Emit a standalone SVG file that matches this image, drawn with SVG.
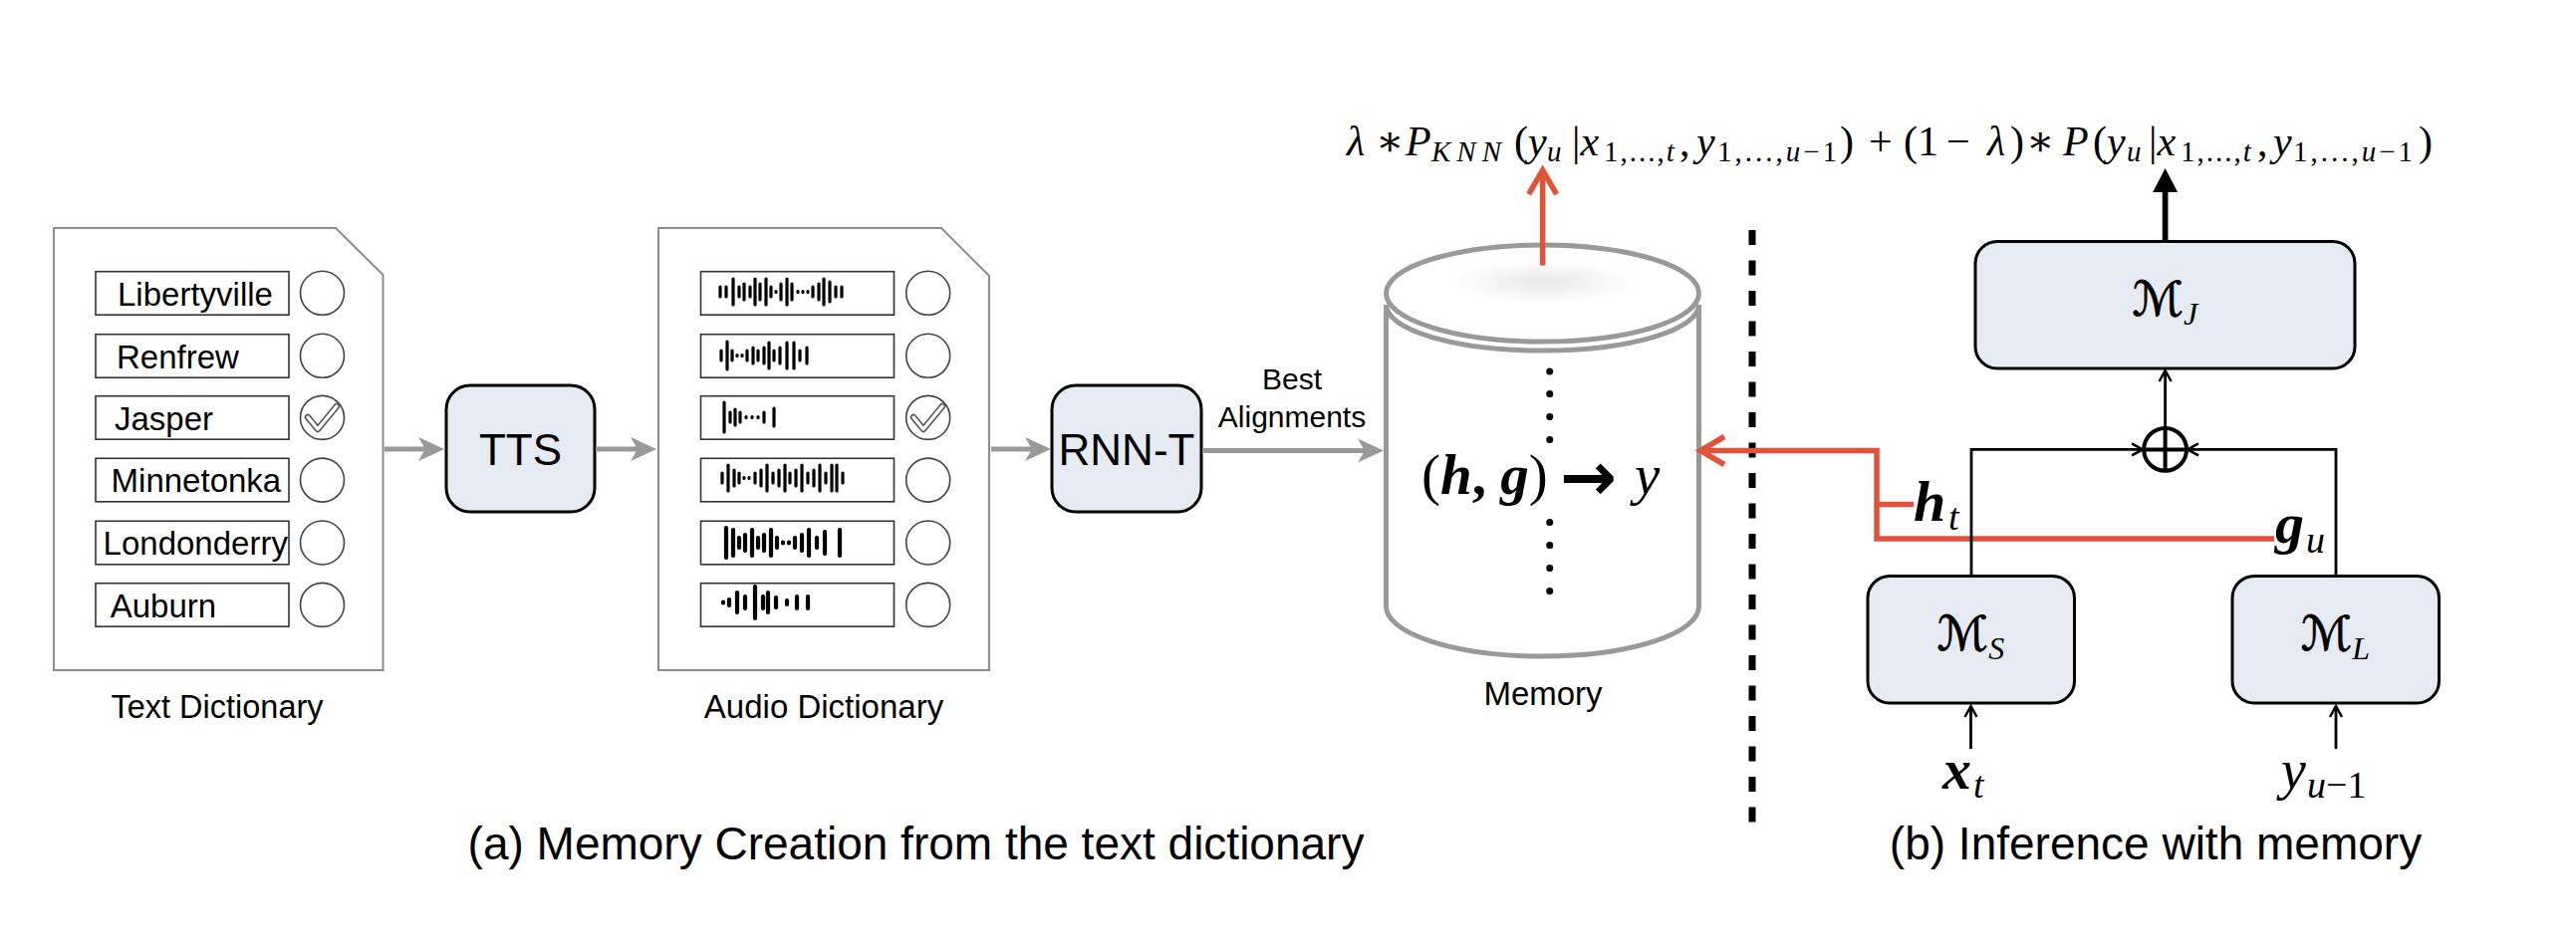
<svg xmlns="http://www.w3.org/2000/svg" width="2586" height="954" viewBox="0 0 2586 954">
<defs>
<style>
.doc{fill:#fff;stroke:#8c8c8c;stroke-width:2}
.entry{fill:#fff;stroke:#333;stroke-width:1.6}
.radio{fill:#fff;stroke:#444;stroke-width:1.6}
.lbl{font-family:"Liberation Sans",Arial,sans-serif;fill:#000}
.blk{fill:#e6ebf3;stroke:#000;stroke-width:3}
.gray{stroke:#999;stroke-width:5;fill:none}
.red{stroke:#e0523a;stroke-width:5.5;fill:none}
.thin{stroke:#000;stroke-width:2.8;fill:none}
.math{font-family:"Liberation Serif","DejaVu Serif",serif;fill:#000}
.it{font-style:italic}
.bi{font-style:italic;font-weight:bold}
.cal{font-family:"DejaVu Serif","DejaVu Sans",serif;fill:#000;stroke:#000;stroke-width:0.9}
.wave{stroke:#000;stroke-width:3.2;stroke-linecap:round;fill:none}
.wave2{stroke:#000;stroke-width:4.2;stroke-linecap:round;fill:none}
.chk1{stroke:#555;stroke-width:6.5;stroke-linecap:round;stroke-linejoin:round;fill:none}
.chk2{stroke:#fff;stroke-width:3.4;stroke-linecap:round;stroke-linejoin:round;fill:none}
.cyl{stroke:#999;stroke-width:5;fill:#fff}
</style>
<marker id="ga" markerUnits="userSpaceOnUse" markerWidth="30" markerHeight="30" refX="0" refY="0" orient="auto" overflow="visible"><path d="M19,0 L-7,-12 L0,0 L-7,12 Z" fill="#999"/></marker>
<marker id="ra" markerUnits="userSpaceOnUse" markerWidth="30" markerHeight="30" refX="0" refY="0" orient="auto" overflow="visible"><path d="M-24,-14 L0,0 L-24,14" fill="none" stroke="#e0523a" stroke-width="5.5"/></marker>
<marker id="ba" markerUnits="userSpaceOnUse" markerWidth="30" markerHeight="30" refX="0" refY="0" orient="auto" overflow="visible"><path d="M24,0 L0,-12.5 L0,12.5 Z" fill="#000"/></marker>
<marker id="sa" markerUnits="userSpaceOnUse" markerWidth="20" markerHeight="20" refX="0" refY="0" orient="auto" overflow="visible"><path d="M-11,-6 L0,0 L-11,6" fill="none" stroke="#000" stroke-width="2.5"/></marker>
<radialGradient id="shade" cx="0.5" cy="0.5" r="0.5"><stop offset="0" stop-color="#000" stop-opacity="0.09"/><stop offset="1" stop-color="#000" stop-opacity="0"/></radialGradient>
</defs>
<rect width="2586" height="954" fill="#fff"/>

<g id="text-dictionary">
<path class="doc" d="M54,229 H337 L384.5,276 V673 H54 Z"/>
<rect class="entry" x="96" y="272.7" width="194" height="43.5"/>
<rect class="entry" x="96" y="335.7" width="194" height="43.5"/>
<rect class="entry" x="96" y="397.7" width="194" height="43.5"/>
<rect class="entry" x="96" y="460.3" width="194" height="43.5"/>
<rect class="entry" x="96" y="523.3" width="194" height="43.5"/>
<rect class="entry" x="96" y="585.7" width="194" height="43.5"/>
<circle class="radio" cx="323.5" cy="294.3" r="22"/>
<circle class="radio" cx="323.5" cy="357.3" r="22"/>
<circle class="radio" cx="323.5" cy="419.4" r="22"/>
<circle class="radio" cx="323.5" cy="482.1" r="22"/>
<circle class="radio" cx="323.5" cy="545" r="22"/>
<circle class="radio" cx="323.5" cy="607.4" r="22"/>
<path class="chk1" d="M309,419 L319,431 L338,408"/>
<path class="chk2" d="M309,419 L319,431 L338,408"/>
<g class="lbl" font-size="33">
<text x="118" y="306.5">Libertyville</text>
<text x="117" y="369.5">Renfrew</text>
<text x="115" y="431.5">Jasper</text>
<text x="111.6" y="494.3">Minnetonka</text>
<text x="103.6" y="557">Londonderry</text>
<text x="110.7" y="619.5">Auburn</text>
</g>
<text class="lbl" x="218" y="721" font-size="32.5" text-anchor="middle">Text Dictionary</text>
</g>

<g id="tts">
<rect class="blk" x="448" y="387" width="149" height="127" rx="24"/>
<text class="lbl" x="522.5" y="467" font-size="44" text-anchor="middle">TTS</text>
</g>

<g id="audio-dictionary">
<path class="doc" d="M661,229 H945 L993,277 V673 H661 Z"/>
<rect class="entry" x="703.5" y="272.7" width="194" height="43.5"/>
<rect class="entry" x="703.5" y="335.7" width="194" height="43.5"/>
<rect class="entry" x="703.5" y="397.7" width="194" height="43.5"/>
<rect class="entry" x="703.5" y="460.3" width="194" height="43.5"/>
<rect class="entry" x="703.5" y="523.3" width="194" height="43.5"/>
<rect class="entry" x="703.5" y="585.7" width="194" height="43.5"/>
<circle class="radio" cx="931.7" cy="294.3" r="22"/>
<circle class="radio" cx="931.7" cy="357.3" r="22"/>
<circle class="radio" cx="931.7" cy="419.4" r="22"/>
<circle class="radio" cx="931.7" cy="482.1" r="22"/>
<circle class="radio" cx="931.7" cy="545" r="22"/>
<circle class="radio" cx="931.7" cy="607.4" r="22"/>
<path class="chk1" d="M917,419 L927,431 L946,408"/>
<path class="chk2" d="M917,419 L927,431 L946,408"/>
<path class="wave" d="M723,288V298 M729,288V298 M736,280V306 M742,288V298 M747,285V301 M753,288V298 M758,280V306 M763,285V301 M769,280V306 M774,288V298 M779,292.5V293.5 M784,285V301 M790,280V306 M795,285V301 M801,292.5V293.5 M806,292.5V293.5 M811,292.5V293.5 M816,288V298 M822,285V301 M827,280V306 M833,283V303 M839,288V298 M845,288V298"/>
<path class="wave" d="M724,352V362 M730,343V371 M735,352V362 M740,356.5V357.5 M745,356.5V357.5 M750,352V362 M756,349V365 M761,352V362 M767,349V365 M772,344V370 M777,352V362 M783,349V365 M790,344V370 M797,344V370 M803,352V362 M810,349V365"/>
<path class="wave" d="M727,404V434 M733,414V424 M738,411V427 M743,414V424 M749,418.5V419.5 M755,418.5V419.5 M761,418.5V419.5 M767,414V424 M777,410V428"/>
<path class="wave" d="M725,475V485 M731,467V493 M737,472V488 M742,475V485 M747,479.5V480.5 M752,479.5V480.5 M758,475V485 M764,472V488 M770,467V493 M776,475V485 M782,472V488 M788,467V493 M793,475V485 M799,472V488 M805,467V493 M811,475V485 M817,472V488 M823,467V493 M829,475V485 M835,467V493 M840,467V493 M846,475V485"/>
<path class="wave2" d="M729,530V560 M736,532V558 M742,540V550 M748,537V553 M755,532V558 M761,540V550 M767,537V553 M774,532V558 M780,540V550 M786,544.5V545.5 M792,544.5V545.5 M798,540V550 M805,537V553 M812,532V558 M820,540V550 M828,534V556 M843,532V558"/>
<path class="wave2" d="M726,604.5V605.5 M732,602V608 M740,595V615 M748,599V611 M758,589V621 M766,599V611 M771,595V615 M779,600V610 M790,603V607 M800,599V611 M811,599V611"/>
<text class="lbl" x="827" y="721" font-size="33" text-anchor="middle">Audio Dictionary</text>
</g>

<g id="rnnt">
<rect class="blk" x="1056" y="387" width="150" height="127" rx="24"/>
<text class="lbl" x="1131" y="467" font-size="44" text-anchor="middle">RNN-T</text>
</g>

<g id="memory">
<ellipse cx="1548.5" cy="294.5" rx="157" ry="48.5" class="cyl"/>
<path class="cyl" d="M1391.5,306 V609 A157,50 0 0 0 1705.5,609 V306 A157,46 0 0 1 1391.5,306 Z"/>
<ellipse cx="1549" cy="283" rx="95" ry="22" fill="url(#shade)"/>
<g fill="#000">
<circle cx="1555.7" cy="373" r="3.5"/><circle cx="1555.7" cy="395.5" r="3.5"/><circle cx="1555.7" cy="418.5" r="3.5"/><circle cx="1555.7" cy="441.5" r="3.5"/>
<circle cx="1555.7" cy="524.5" r="3.5"/><circle cx="1555.7" cy="547.5" r="3.5"/><circle cx="1555.7" cy="570.5" r="3.5"/><circle cx="1555.7" cy="593.5" r="3.5"/>
</g>
<text class="math" font-size="57"><tspan x="1427" y="496">(<tspan class="bi">h</tspan><tspan font-weight="bold">, </tspan><tspan class="bi">g</tspan>)</tspan><tspan x="1566" y="502" font-family="DejaVu Sans" font-weight="bold" font-size="68">→</tspan><tspan x="1641" y="496" class="it">y</tspan></text>
<text class="lbl" x="1549" y="708" font-size="33" text-anchor="middle">Memory</text>
</g>

<g id="formula">
<text class="math" font-size="42"><tspan x="1352" y="156" class="it">λ</tspan><tspan x="1381" y="156">∗</tspan><tspan x="1411" y="156" class="it">P</tspan><tspan x="1437" y="162" font-size="29" class="it" letter-spacing="6">KNN</tspan><tspan x="1520" y="156">(<tspan class="it">y</tspan></tspan><tspan x="1553" y="162" font-size="29" class="it">u</tspan><tspan x="1578" y="156">|<tspan class="it">x</tspan></tspan><tspan x="1610" y="162" font-size="29" letter-spacing="2">1,...,<tspan class="it">t</tspan></tspan><tspan x="1686" y="156">,</tspan><tspan x="1703" y="156" class="it">y</tspan><tspan x="1724" y="162" font-size="29" letter-spacing="3">1,...,<tspan class="it">u</tspan>−1</tspan><tspan x="1847" y="156">)</tspan><tspan x="1876" y="156">+</tspan><tspan x="1911" y="156">(1</tspan><tspan x="1954" y="156">−</tspan><tspan x="1995" y="156" class="it">λ</tspan><tspan x="2018" y="156">)</tspan><tspan x="2034" y="156">∗</tspan><tspan x="2071" y="156" class="it">P</tspan><tspan x="2101" y="156">(<tspan class="it">y</tspan></tspan><tspan x="2135" y="162" font-size="29" class="it">u</tspan><tspan x="2157" y="156">|<tspan class="it">x</tspan></tspan><tspan x="2189" y="162" font-size="29" letter-spacing="2">1,...,<tspan class="it">t</tspan></tspan><tspan x="2266" y="156">,</tspan><tspan x="2282" y="156" class="it">y</tspan><tspan x="2302" y="162" font-size="29" letter-spacing="3">1,...,<tspan class="it">u</tspan>−1</tspan><tspan x="2428" y="156">)</tspan></text>
</g>

<g id="mj">
<rect class="blk" x="1983" y="242.5" width="381" height="127.5" rx="22"/>
<text class="cal" x="2173.5" y="317" font-size="48" text-anchor="middle">ℳ<tspan class="math it" stroke-width="0" font-size="32" dy="9">J</tspan></text>
</g>
<g id="ms">
<rect class="blk" x="1875" y="578.4" width="207.5" height="127.6" rx="22"/>
<text class="cal" x="1978.5" y="653" font-size="48" text-anchor="middle">ℳ<tspan class="math it" stroke-width="0" font-size="32" dy="9">S</tspan></text>
</g>
<g id="ml">
<rect class="blk" x="2241" y="578.4" width="207.5" height="127.6" rx="22"/>
<text class="cal" x="2344.5" y="653" font-size="48" text-anchor="middle">ℳ<tspan class="math it" stroke-width="0" font-size="32" dy="9">L</tspan></text>
</g>
<g id="oplus">
<circle cx="2173.6" cy="451.4" r="21.4" fill="#fff" stroke="#000" stroke-width="4"/>
<path d="M2152,451.4 H2195 M2173.6,430 V473" stroke="#000" stroke-width="4"/>
</g>
<g id="inputs">
<text class="math" font-size="58"><tspan x="1950" y="792" class="bi">x</tspan><tspan x="1981" y="801" font-size="38" class="it">t</tspan></text>
<text class="math" font-size="56"><tspan x="2290" y="792" class="it">y</tspan><tspan x="2316" y="801" font-size="38"><tspan class="it">u</tspan>−1</tspan></text>
<text class="math" font-size="58"><tspan x="1921" y="523" class="bi">h</tspan><tspan x="1956" y="532" font-size="38" class="it">t</tspan></text>
<text class="math" font-size="58"><tspan x="2284" y="545" class="bi">g</tspan><tspan x="2315" y="555" font-size="38" class="it">u</tspan></text>
</g>

<g id="connectors">
<path class="gray" d="M386,451 H427" marker-end="url(#ga)"/>
<path class="gray" d="M598,451 H640" marker-end="url(#ga)"/>
<path class="gray" d="M995,451 H1036" marker-end="url(#ga)"/>
<path class="gray" d="M1207,452.5 H1370" marker-end="url(#ga)"/>
<text class="lbl" x="1297" y="391" font-size="30" text-anchor="middle">Best</text>
<text class="lbl" x="1297" y="429" font-size="30" text-anchor="middle">Alignments</text>
<path d="M1759,231 V838" stroke="#000" stroke-width="7" stroke-dasharray="15 15.5" fill="none"/>
<path class="red" d="M1548.6,266.5 V171" marker-end="url(#ra)"/>
<path class="red" d="M2283,541 H1884 V452.5 H1707" marker-end="url(#ra)"/>
<path class="red" d="M1884,506.5 H1921"/>
<path d="M2173.6,243 V193" stroke="#000" stroke-width="5.7" fill="none" marker-end="url(#ba)"/>
<path class="thin" d="M2173.6,430 V372" marker-end="url(#sa)"/>
<path class="thin" d="M1979,578 V451.4 H2151" marker-end="url(#sa)"/>
<path class="thin" d="M2345,578 V451.4 H2196" marker-end="url(#sa)"/>
<path class="thin" d="M1978.5,752 V709" marker-end="url(#sa)"/>
<path class="thin" d="M2345,752 V709" marker-end="url(#sa)"/>
</g>

<g id="captions">
<text class="lbl" x="919.5" y="863" font-size="46" text-anchor="middle">(a) Memory Creation from the text dictionary</text>
<text class="lbl" x="2164" y="863" font-size="46" text-anchor="middle">(b) Inference with memory</text>
</g>
</svg>
